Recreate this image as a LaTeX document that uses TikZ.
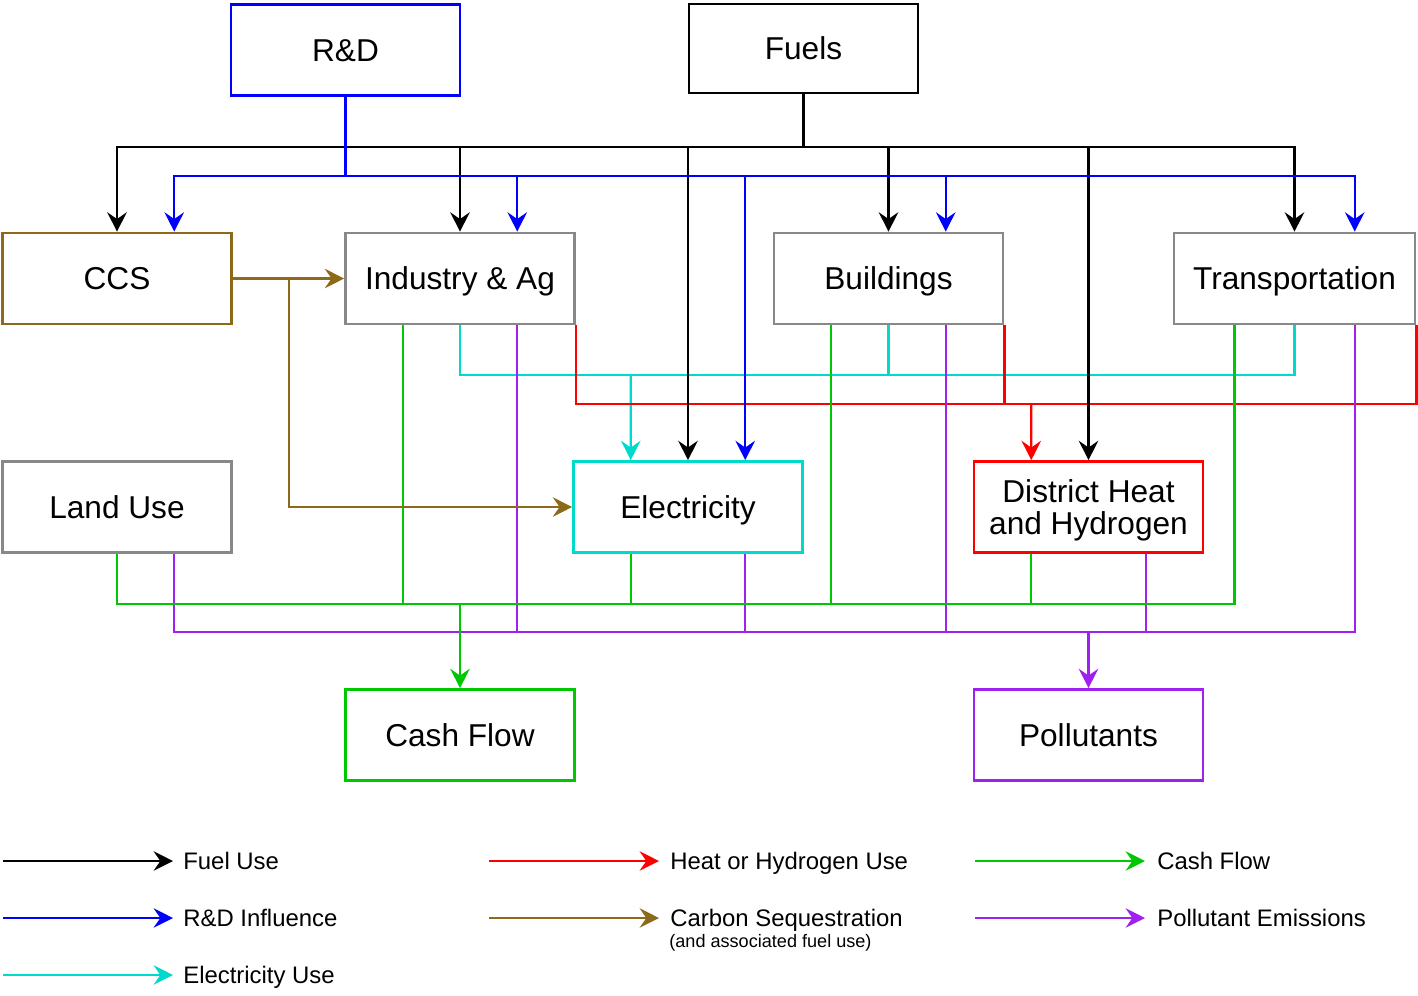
\documentclass[tikz,border=0pt]{standalone}
\usepackage{fontspec}
\setmainfont{Liberation Sans}
\usepackage{tikz}
\usetikzlibrary{positioning,arrows.meta}

\definecolor{rdblue}{RGB}{0,0,255}
\definecolor{ccsbrown}{RGB}{140,106,26}
\definecolor{boxgray}{RGB}{136,136,136}
\definecolor{elcyan}{RGB}{0,218,204}
\definecolor{heatred}{RGB}{255,0,0}
\definecolor{cashgreen}{RGB}{0,200,0}
\definecolor{pollpurple}{RGB}{160,32,240}

\tikzset{
  box/.style={draw, line width=1.5pt, fill=white, minimum width=4.58cm, minimum height=1.82cm,
    inner sep=0pt, align=center, font=\fontsize{18}{18.5}\selectfont,
    text height=12.9pt, text depth=0pt},
  link/.style={line width=1.4pt},
  flow/.style={line width=1.4pt, -{Stealth[length=11pt,width=11pt,inset=3.8pt]}},
  legtext/.style={anchor=west, inner sep=0pt, font=\fontsize{13.6}{16}\selectfont,
    text height=9.7pt, text depth=0pt},
  legsub/.style={anchor=west, inner sep=0pt, font=\fontsize{10.3}{12}\selectfont,
    text height=7.4pt, text depth=0pt},
}

\begin{document}
\begin{tikzpicture}[x=0.02cm, y=-0.02cm]
\useasboundingbox (0,0) rectangle (1418,995);

% boxes
\node[box, draw=rdblue] (rd) at (345.5,50) {R\&D};
\node[box, minimum height=1.78cm] (fuels) at (803.5,48.5) {Fuels};
\node[box, draw=ccsbrown] (ccs) at (117,278.5) {CCS};
\node[box, draw=boxgray] (ind) at (460,278.5) {Industry \& Ag};
\node[box, draw=boxgray] (bld) at (888.5,278.5) {Buildings};
\node[box, draw=boxgray, minimum width=4.82cm] (trn) at (1294.5,278.5) {Transportation};
\node[box, draw=boxgray] (land) at (117,507) {Land Use};
\node[box, draw=elcyan] (elec) at (688,507) {Electricity};
\node[box, draw=heatred, text height=31.4pt] (dh) at (1088.5,507) {District Heat\\and Hydrogen};
\node[box, draw=cashgreen] (cash) at (460,735) {Cash Flow};
\node[box, draw=pollpurple] (poll) at (1088.5,735) {Pollutants};

% bus points
\coordinate (fbus) at (803.5,147);
\coordinate (rbus) at (345.5,176);
\coordinate (cbus) at (630.75,375);
\coordinate (hbus) at (1031.25,404);
\coordinate (gbus) at (460,604);
\coordinate (pbus) at (1088.5,632);
\coordinate (sbr) at (289,278.5);

% electricity use
\draw[link, elcyan] (ind.south) |- (cbus);
\draw[link, elcyan] (bld.south) -- (bld.south |- cbus);
\draw[link, elcyan] (trn.south) |- (cbus);
\draw[flow, elcyan] (cbus) -- ([xshift=-1.145cm]elec.north);

% heat or hydrogen use
\draw[link, heatred] (ind.south east) |- (hbus);
\draw[link, heatred] (bld.south east) -- (bld.south east |- hbus);
\draw[link, heatred] (trn.south east) |- (hbus);
\draw[flow, heatred] (hbus) -- ([xshift=-1.145cm]dh.north);

% pollutant emissions
\draw[link, pollpurple] ([xshift=1.145cm]land.south) |- (pbus);
\draw[link, pollpurple] ([xshift=1.145cm]ind.south) |- (pbus);
\draw[link, pollpurple] ([xshift=1.145cm]elec.south) |- (pbus);
\draw[link, pollpurple] ([xshift=1.145cm]bld.south) |- (pbus);
\draw[link, pollpurple] ([xshift=1.145cm]dh.south) |- (pbus);
\draw[link, pollpurple] ([xshift=1.205cm]trn.south) |- (pbus);
\draw[flow, pollpurple] (pbus) -- (poll.north);

% cash flow
\draw[link, cashgreen] (land.south) |- (gbus);
\draw[link, cashgreen] ([xshift=-1.145cm]ind.south) |- (gbus);
\draw[link, cashgreen] ([xshift=-1.145cm]elec.south) |- (gbus);
\draw[link, cashgreen] ([xshift=-1.145cm]bld.south) |- (gbus);
\draw[link, cashgreen] ([xshift=-1.145cm]dh.south) |- (gbus);
\draw[link, cashgreen] ([xshift=-1.205cm]trn.south) |- (gbus);
\draw[flow, cashgreen] (gbus) -- (cash.north);

% fuel use
\draw[link] (fuels.south) -- (fbus);
\draw[flow] (fbus) -| (ccs.north);
\draw[flow] (fbus) -| (ind.north);
\draw[flow] (fbus) -| (elec.north);
\draw[flow] (fbus) -| (bld.north);
\draw[flow] (fbus) -| (dh.north);
\draw[flow] (fbus) -| (trn.north);

% R&D influence
\draw[link, rdblue] (rd.south) -- (rbus);
\draw[flow, rdblue] (rbus) -| ([xshift=1.145cm]ccs.north);
\draw[flow, rdblue] (rbus) -| ([xshift=1.145cm]ind.north);
\draw[flow, rdblue] (rbus) -| ([xshift=1.145cm]elec.north);
\draw[flow, rdblue] (rbus) -| ([xshift=1.145cm]bld.north);
\draw[flow, rdblue] (rbus) -| ([xshift=1.205cm]trn.north);

% carbon sequestration
\draw[flow, ccsbrown] (ccs.east) -- (ind.west);
\draw[flow, ccsbrown] (sbr) |- (elec.west);

% legend
\node[legtext] (lfuel) at (183,861) {Fuel Use};
\node[legtext] (lrd) at (183,918) {R\&D Influence};
\node[legtext] (lelec) at (183,975) {Electricity Use};
\node[legtext] (lheat) at (670,861) {Heat or Hydrogen Use};
\node[legtext] (lcarb) at (670,918) {Carbon Sequestration};
\node[legsub] (lcarbsub) at (669,941) {(and associated fuel use)};
\node[legtext] (lcash) at (1157,861) {Cash Flow};
\node[legtext] (lpoll) at (1157,918) {Pollutant Emissions};

\coordinate (sfuel) at (3,861);
\coordinate (srd) at (3,918);
\coordinate (selec) at (3,975);
\coordinate (sheat) at (489,861);
\coordinate (scarb) at (489,918);
\coordinate (scash) at (975,861);
\coordinate (spoll) at (975,918);

\draw[flow] (sfuel) -- ([xshift=-0.2cm]lfuel.west);
\draw[flow, rdblue] (srd) -- ([xshift=-0.2cm]lrd.west);
\draw[flow, elcyan] (selec) -- ([xshift=-0.2cm]lelec.west);
\draw[flow, heatred] (sheat) -- ([xshift=-0.22cm]lheat.west);
\draw[flow, ccsbrown] (scarb) -- ([xshift=-0.22cm]lcarb.west);
\draw[flow, cashgreen] (scash) -- ([xshift=-0.24cm]lcash.west);
\draw[flow, pollpurple] (spoll) -- ([xshift=-0.24cm]lpoll.west);
\end{tikzpicture}
\end{document}
